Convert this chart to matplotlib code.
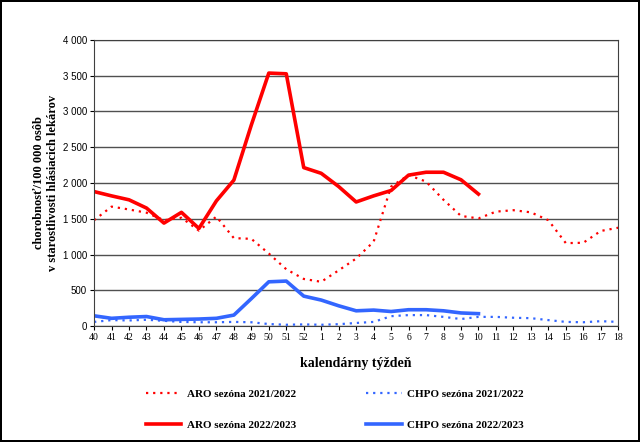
import matplotlib.pyplot as plt
from matplotlib.ticker import FuncFormatter

# Calendar weeks of the season (week 40 to week 18)
weeks = [str(w) for w in list(range(40, 53)) + list(range(1, 19))]

# ARO season 2021/2022 (full season)
aro_2122 = [1480, 1670, 1630, 1585, 1480, 1515, 1335, 1530, 1230, 1220, 1015, 795,
            660, 620, 780, 945, 1180, 1950, 2110, 2020, 1765, 1540, 1505, 1600,
            1620, 1590, 1480, 1160, 1165, 1330, 1375]
# CHPO season 2021/2022
chpo_2122 = [60, 85, 80, 90, 75, 60, 55, 55, 60, 55, 30, 20,
             25, 20, 28, 45, 60, 140, 155, 155, 130, 100, 130, 130,
             118, 112, 85, 60, 55, 70, 60]
# ARO season 2022/2023 (up to week 10)
aro_2223 = [1880, 1820, 1765, 1650, 1440, 1590, 1365, 1750, 2040, 2810, 3535, 3525,
            2215, 2135, 1950, 1735, 1820, 1895, 2110, 2150, 2150, 2045, 1845]
# CHPO season 2022/2023
chpo_2223 = [145, 110, 125, 135, 90, 95, 100, 110, 155, 385, 620, 630,
             420, 365, 285, 215, 225, 205, 230, 230, 215, 185, 175]

y_ticks = [0, 500, 1000, 1500, 2000, 2500, 3000, 3500, 4000]

red = "#ff0000"
blue = "#3366ff"
serif = "Liberation Serif"

fig = plt.figure(figsize=(6.4, 4.42), dpi=100)
fig.patch.set_edgecolor("black")
fig.patch.set_linewidth(1.5)
ax = fig.add_axes([0.147, 0.262, 0.819, 0.648])

x_all = range(len(weeks))
ax.plot(x_all, aro_2122, color=red, lw=1.6, ls=(0, (1, 2.2)), label="ARO sezóna 2021/2022")
ax.plot(range(len(aro_2223)), aro_2223, color=red, lw=2.6, label="ARO sezóna 2022/2023")
ax.plot(x_all, chpo_2122, color=blue, lw=1.6, ls=(0, (1, 2.2)), label="CHPO sezóna 2021/2022")
ax.plot(range(len(chpo_2223)), chpo_2223, color=blue, lw=2.6, label="CHPO sezóna 2022/2023")

ax.set_xlim(0, len(weeks) - 1)
ax.set_ylim(0, 4000)
ax.set_xticks(list(x_all))
ax.set_xticklabels(weeks, family=serif, fontsize=7)
ax.set_yticks(y_ticks)
ax.yaxis.set_major_formatter(FuncFormatter(lambda v, p: f"{int(v):,}".replace(",", " ")))
for lbl in ax.get_yticklabels():
    lbl.set_family("Liberation Sans")
    lbl.set_fontsize(7)

ax.grid(axis="y", color="#505050", lw=1)
ax.set_axisbelow(True)
ax.tick_params(length=3, width=0.8, pad=2)
for s in ax.spines.values():
    s.set_color("#404040")

ax.set_xlabel("kalendárny týždeň", family=serif, fontweight="bold", fontsize=10, labelpad=11)
ax.set_ylabel("chorobnosť/100 000 osôb\nv starostlivosti hlásiacich lekárov",
              family=serif, fontweight="bold", fontsize=9, labelpad=3)

handles, labels = ax.get_legend_handles_labels()
fig.legend(handles, labels, loc="center", bbox_to_anchor=(0.523, 0.074), ncol=2,
           frameon=False, prop={"family": serif, "weight": "bold", "size": 8},
           handlelength=3.2, columnspacing=6.3, labelspacing=1.9, handletextpad=0.5)

fig.savefig("out.png", dpi=100, edgecolor=fig.get_edgecolor())
